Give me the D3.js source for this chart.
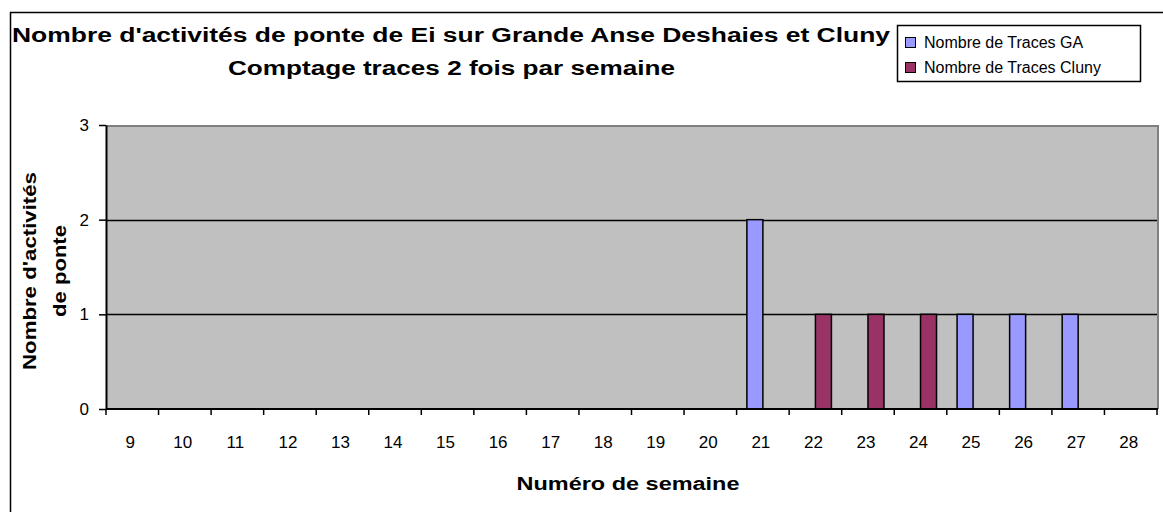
<!DOCTYPE html>
<html>
<head>
<meta charset="utf-8">
<script src="https://cdn.jsdelivr.net/npm/d3@7"></script>
<style>
  body { margin: 0; background: #fff; }
  text { font-family: "Liberation Sans", Arial, sans-serif; fill: #000; }
</style>
</head>
<body>
<svg id="chart" width="1163" height="512"></svg>
<script>
// weeks (categories) and counts per beach
var weeks = ['9', '10', '11', '12', '13', '14', '15', '16', '17', '18', '19', '20', '21', '22', '23', '24', '25', '26', '27', '28'];
var tracesGA = [0, 0, 0, 0, 0, 0, 0, 0, 0, 0, 0, 0, 2, 0, 0, 0, 1, 1, 1, 0];
var tracesCluny = [0, 0, 0, 0, 0, 0, 0, 0, 0, 0, 0, 0, 0, 1, 1, 1, 0, 0, 0, 0];
var seriesNames = ['Nombre de Traces GA', 'Nombre de Traces Cluny'];
var yTicks = [0, 1, 2, 3];

var colors = ['#9999FF', '#993366'];

var svg = d3.select('#chart');

// outer chart border (runs off the picture on the right and bottom)
svg.append('rect')
    .attr('x', 10.5).attr('y', 12.5)
    .attr('width', 1170).attr('height', 520)
    .attr('fill', '#fff').attr('stroke', '#000').attr('stroke-width', 1.5);

var plotL = 106, plotR = 1157, plotT = 125, plotB = 409;

var x0 = d3.scaleBand().domain(weeks).range([plotL, plotR]).padding(0);
var x1 = d3.scaleBand().domain(seriesNames).range([0, x0.bandwidth()]).paddingInner(0).paddingOuter(0.642);
var y = d3.scaleLinear().domain([0, 3]).range([plotB, plotT]);

// plot area
svg.append('rect')
    .attr('x', plotL).attr('y', plotT)
    .attr('width', plotR - plotL).attr('height', plotB - plotT)
    .attr('fill', '#C0C0C0');
svg.append('path')
    .attr('d', 'M' + plotL + ',' + (plotT + 1) + 'H' + (plotR + 1) + 'V' + plotB)
    .attr('fill', 'none').attr('stroke', '#808080').attr('stroke-width', 2);

// gridlines
svg.append('g').selectAll('line')
    .data(yTicks.filter(function (d) { return d > 0 && d < 3; }))
    .join('line')
    .attr('x1', plotL).attr('x2', plotR)
    .attr('y1', function (d) { return Math.round(y(d)) + 0.5; })
    .attr('y2', function (d) { return Math.round(y(d)) + 0.5; })
    .attr('stroke', '#000').attr('stroke-width', 1.5);

// bars
var data = [];
weeks.forEach(function (w, i) {
    data.push({ week: w, s: seriesNames[0], v: tracesGA[i], c: colors[0] });
    data.push({ week: w, s: seriesNames[1], v: tracesCluny[i], c: colors[1] });
});
svg.append('g').selectAll('rect')
    .data(data.filter(function (d) { return d.v > 0; }))
    .join('rect')
    .attr('x', function (d) { return x0(d.week) + x1(d.s); })
    .attr('y', function (d) { return y(d.v); })
    .attr('width', x1.bandwidth())
    .attr('height', function (d) { return y(0) - y(d.v); })
    .attr('fill', function (d) { return d.c; })
    .attr('stroke', '#000').attr('stroke-width', 1.5);

// y axis
var yAxis = d3.axisLeft(y).tickValues(yTicks).tickFormat(d3.format('d'))
    .tickSize(7).tickPadding(10).tickSizeOuter(0);
var gy = svg.append('g').attr('transform', 'translate(' + plotL + ',0)').call(yAxis);
gy.select('.domain').attr('stroke', '#000').attr('stroke-width', 2);
gy.selectAll('.tick line').attr('stroke', '#000').attr('stroke-width', 1.5);
gy.selectAll('.tick text').style('font-size', '17px').attr('fill', '#000')
    .attr('font-family', '"Liberation Sans", Arial, sans-serif');

// x axis: category labels centred, ticks at category boundaries
var gx = svg.append('g').attr('transform', 'translate(0,' + plotB + ')');
gx.append('line').attr('x1', plotL).attr('x2', plotR + 1)
    .attr('stroke', '#000').attr('stroke-width', 2);
var bounds = weeks.map(function (w) { return x0(w); }).concat([plotR]);
gx.selectAll('line.tk').data(bounds).join('line').attr('class', 'tk')
    .attr('x1', function (d) { return d; }).attr('x2', function (d) { return d; })
    .attr('y1', 0).attr('y2', 6)
    .attr('stroke', '#000').attr('stroke-width', 1.5);
gx.selectAll('text').data(weeks).join('text')
    .attr('x', function (d) { return x0(d) + x0.bandwidth() / 2 - 2; })
    .attr('y', 39)
    .attr('text-anchor', 'middle')
    .style('font-size', '17px')
    .text(function (d) { return d; });

// titles
svg.append('text').attr('x', 12).attr('y', 42)
    .attr('textLength', 878).attr('lengthAdjust', 'spacingAndGlyphs')
    .style('font-size', '20px').style('font-weight', 'bold')
    .text("Nombre d'activités de ponte de Ei sur Grande Anse Deshaies et Cluny");
svg.append('text').attr('x', 228).attr('y', 75)
    .attr('textLength', 447).attr('lengthAdjust', 'spacingAndGlyphs')
    .style('font-size', '20px').style('font-weight', 'bold')
    .text('Comptage traces 2 fois par semaine');

svg.append('text').attr('x', 628).attr('y', 490)
    .attr('text-anchor', 'middle')
    .attr('textLength', 223).attr('lengthAdjust', 'spacingAndGlyphs')
    .style('font-size', '18px').style('font-weight', 'bold')
    .text('Numéro de semaine');

var yt = svg.append('g').attr('transform', 'translate(0,271) rotate(-90)');
yt.append('text').attr('x', -99).attr('y', 36)
    .attr('textLength', 198).attr('lengthAdjust', 'spacingAndGlyphs')
    .style('font-size', '18px').style('font-weight', 'bold')
    .text("Nombre d'activités");
yt.append('text').attr('x', -46).attr('y', 66)
    .attr('textLength', 92).attr('lengthAdjust', 'spacingAndGlyphs')
    .style('font-size', '18px').style('font-weight', 'bold')
    .text('de ponte');

// legend
var lg = svg.append('g');
lg.append('rect').attr('x', 897.5).attr('y', 25.5).attr('width', 243).attr('height', 56)
    .attr('fill', '#fff').attr('stroke', '#000').attr('stroke-width', 1.5);
var items = lg.selectAll('g.item').data(seriesNames).join('g').attr('class', 'item')
    .attr('transform', function (d, i) { return 'translate(905,' + (37 + i * 25) + ')'; });
items.append('rect').attr('x', 0.5).attr('y', 0.5).attr('width', 10).attr('height', 10)
    .attr('fill', function (d, i) { return colors[i]; })
    .attr('stroke', '#000').attr('stroke-width', 1);
items.append('text').attr('x', 19).attr('y', 10.5)
    .style('font-size', '16px')
    .text(function (d) { return d; });
</script>
</body>
</html>
